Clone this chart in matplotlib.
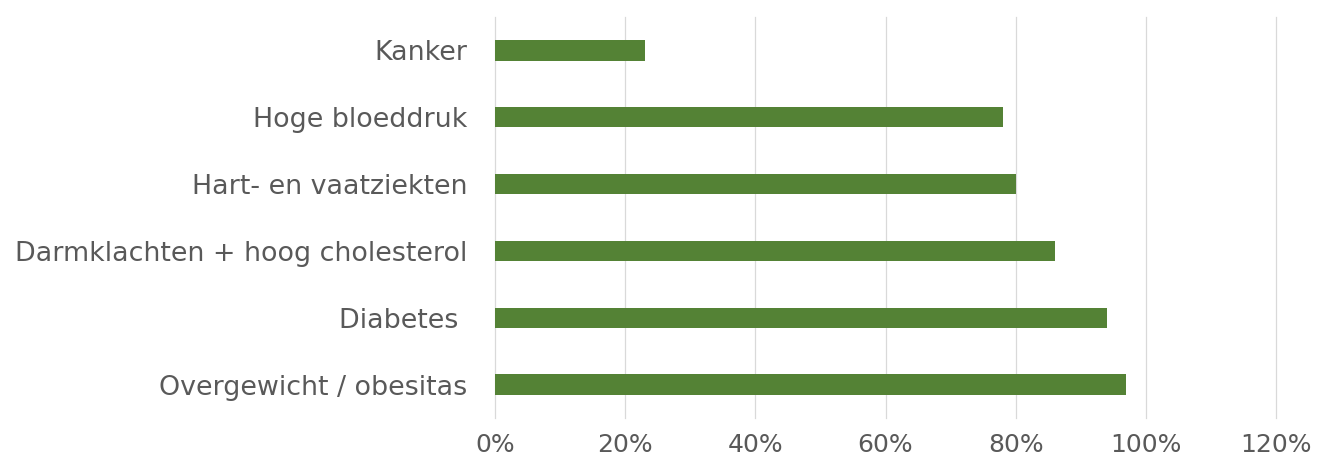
import numpy as np
import matplotlib.pyplot as plt
from matplotlib.ticker import PercentFormatter

categories = ["Overgewicht / obesitas", "Diabetes ", "Darmklachten + hoog cholesterol",
              "Hart- en vaatziekten", "Hoge bloeddruk", "Kanker"]
values = [0.97, 0.94, 0.86, 0.80, 0.78, 0.23]
xticks = [0, 0.2, 0.4, 0.6, 0.8, 1.0, 1.2]

fig = plt.figure(figsize=(13.2, 4.66), dpi=100)
ax = fig.add_axes([0.375, 0.103, 0.9667 - 0.375, 0.9635 - 0.103])

y = np.arange(len(categories))
ax.barh(y, values, height=0.305, color="#548235", zorder=3)

ax.set_xlim(0, 1.2)
ax.set_ylim(-0.5, len(categories) - 0.5)
ax.set_xticks(xticks)
ax.xaxis.set_major_formatter(PercentFormatter(1.0, decimals=0))
ax.set_yticks(y)
ax.set_yticklabels(categories)

ax.grid(axis="x", color="#d9d9d9", linewidth=0.9, zorder=0)
# keep the 120% line visible at the right edge
for gl in ax.get_xgridlines():
    gl.set_clip_on(False)
for s in ax.spines.values():
    s.set_visible(False)
ax.tick_params(axis="both", length=0, labelcolor="#595959")
ax.tick_params(axis="x", pad=11, labelsize=18)
ax.tick_params(axis="y", pad=20, labelsize=19.4)

fig.savefig("out.png", dpi=100)
